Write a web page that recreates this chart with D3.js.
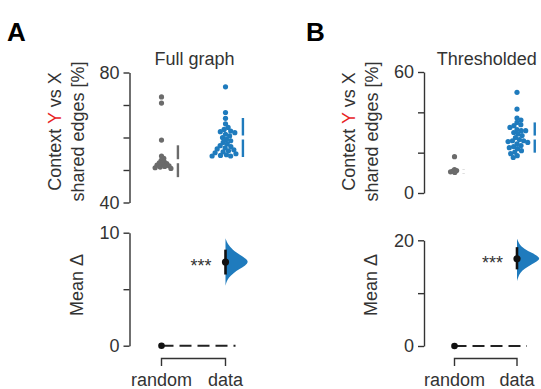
<!DOCTYPE html>
<html><head><meta charset="utf-8">
<script src="https://cdn.jsdelivr.net/npm/d3@7"></script>
<style>body{margin:0;background:#fff} text{font-family:"Liberation Sans",Arial,sans-serif}</style>
</head><body><svg id="c" width="541" height="389"></svg>
<script>
// ---------- data ----------
const groups = ["random", "data"];
const panelLetters = ["A", "B"];
const panelTitles = ["Full graph", "Thresholded"];
// Full graph: shared edges [%]
const fullRandom = [72.5, 70.6, 59.2, 54.3, 53.6, 53.0, 52.6, 52.2, 52.0, 51.7, 51.5, 51.3, 51.1, 50.9, 50.7, 50.5];
const fullData = [75.6, 67.7, 65.9, 64.2, 63.1, 62.5, 62.0, 61.8, 61.5, 61.0, 60.5, 60.0, 59.4, 59.0, 58.5,
                  58.0, 57.5, 57.2, 56.8, 56.5, 56.2, 55.9, 55.6, 55.3, 55.0, 54.7, 54.5, 54.3, 54.3];
const fullMeanSd = [[52.7, 4.9], [60.0, 6.0]];
// Thresholded: shared edges [%]
const thrRandom = [18.0, 11.6, 11.1, 10.8, 10.5, 10.2];
const thrData = [49.9, 41.6, 37.2, 36.2, 35.0, 33.9, 33.4, 32.5, 31.5, 30.9, 30.9, 30.0, 29.3, 28.5, 27.5,
                 26.5, 25.9, 25.9, 25.5, 25.1, 24.4, 23.5, 23.0, 22.5, 22.0, 21.0, 20.3, 19.5, 18.5, 17.6];
const thrMeanSd = [[10.7, 1.1], [27.5, 7.5]];
// Mean difference: [mean, ci low, ci high]
const fullDelta = [7.4, 6.3, 8.5];
const thrDelta = [16.5, 14.5, 18.7];
// bootstrap distribution profile (value, relative density)
const fullBootVals = [5.3, 5.7, 6.0, 6.4, 6.8, 7.1, 7.4, 7.7, 8.0, 8.5, 9.0, 9.5];
const fullBootDens = [0, 0.05, 0.13, 0.32, 0.62, 0.87, 1, 0.9, 0.66, 0.3, 0.09, 0];
const thrBootVals = [12.3, 13.0, 13.8, 14.6, 15.4, 16.0, 16.5, 17.0, 17.6, 18.4, 19.3, 20.3];
const thrBootDens = [0, 0.05, 0.13, 0.32, 0.62, 0.87, 1, 0.9, 0.66, 0.3, 0.09, 0];
// axis ticks
const fullTicks = [40, 50, 60, 70, 80];
const fullTickLabels = [40, 80];
const thrTicks = [0, 20, 40, 60];
const thrTickLabels = [0, 60];
const fullDeltaTicks = [0, 5, 10];
const fullDeltaLabels = [0, 10];
const thrDeltaTicks = [0, 10, 20];
const thrDeltaLabels = [0, 20];
const sigLabel = "***";

// ---------- drawing ----------
const svg = d3.select("#c");
const GRAY = "#6b6b6b", BLUE = "#1f7bbd", INK = "#333";

const panels = [
  {letter: panelLetters[0], title: panelTitles[0], ax: 129.5, xr: [161.5, 225.5], lx: 7, pack: [0.62, 0.85],
   up: {dom: [40, 80], rng: [202.5, 72.5], ticks: fullTicks, labels: fullTickLabels},
   lo: {dom: [0, 10], rng: [345.7, 232.7], ticks: fullDeltaTicks, labels: fullDeltaLabels},
   vals: [fullRandom, fullData], msd: fullMeanSd, delta: fullDelta, bv: fullBootVals, bd: fullBootDens},
  {letter: panelLetters[1], title: panelTitles[1], ax: 424, xr: [454.5, 517], lx: 306, pack: [0.45, 0.85],
   up: {dom: [0, 60], rng: [193, 72], ticks: thrTicks, labels: thrTickLabels},
   lo: {dom: [0, 20], rng: [346, 240.3], ticks: thrDeltaTicks, labels: thrDeltaLabels},
   vals: [thrRandom, thrData], msd: thrMeanSd, delta: thrDelta, bv: thrBootVals, bd: thrBootDens}
];

function swarm(values, y, r, pack) {
  const d = 2 * r * pack;
  const idx = values.map((v, i) => i).sort((a, b) => values[b] - values[a]);
  const placed = [];
  const out = new Array(values.length);
  idx.forEach(i => {
    const yi = y(values[i]);
    const cands = [0];
    placed.forEach(p => {
      const dy = Math.abs(p.y - yi);
      if (dy < d) { const dx = Math.sqrt(d * d - dy * dy); cands.push(p.x + dx, p.x - dx); }
    });
    const ok = cands.filter(c => placed.every(p => (p.x - c) ** 2 + (p.y - yi) ** 2 >= d * d - 0.01));
    ok.sort((a, b) => Math.abs(a) - Math.abs(b) || b - a);
    const x = ok[0];
    placed.push({x, y: yi});
    out[i] = {x, y: yi, v: values[i]};
  });
  return out;
}

function styleAxis(g) {
  g.select(".domain").attr("stroke", INK).attr("stroke-width", 1.4);
  g.selectAll(".tick line").attr("stroke", INK).attr("stroke-width", 1.4);
  g.selectAll(".tick text").attr("fill", INK).style("font-size", "18px")
    .style("font-family", '"Liberation Sans", Arial, sans-serif');
}

panels.forEach(P => {
  const g = svg.append("g");
  const x = d3.scalePoint().domain(groups).range(P.xr);
  const yU = d3.scaleLinear().domain(P.up.dom).range(P.up.rng);
  const yL = d3.scaleLinear().domain(P.lo.dom).range(P.lo.rng);

  // panel letter
  g.append("text").attr("x", P.lx).attr("y", 41).text(P.letter)
    .style("font-size", "26px").style("font-weight", "bold").attr("fill", "#000");
  // title
  g.append("text").attr("x", (P.xr[0] + P.xr[1]) / 2 + 1).attr("y", 65).attr("text-anchor", "middle")
    .style("font-size", "18px").attr("fill", INK).text(P.title);

  // axes
  const aU = g.append("g").attr("transform", `translate(${P.ax},0)`)
    .call(d3.axisLeft(yU).tickValues(P.up.ticks).tickFormat(d => P.up.labels.includes(d) ? d : "")
      .tickSize(6).tickSizeOuter(0).tickPadding(4));
  styleAxis(aU);
  const aL = g.append("g").attr("transform", `translate(${P.ax},0)`)
    .call(d3.axisLeft(yL).tickValues(P.lo.ticks).tickFormat(d => P.lo.labels.includes(d) ? d : "")
      .tickSize(6).tickSizeOuter(0).tickPadding(4));
  styleAxis(aL);

  // y titles
  const t1 = g.append("text").attr("transform", `translate(${P.ax - 69},131.5) rotate(-90)`)
    .attr("text-anchor", "middle").style("font-size", "18px").attr("fill", INK);
  t1.append("tspan").text("Context ");
  t1.append("tspan").attr("fill", "#e8231f").text("Y");
  t1.append("tspan").text(" vs X");
  g.append("text").attr("transform", `translate(${P.ax - 46},131.5) rotate(-90)`)
    .attr("text-anchor", "middle").style("font-size", "18px").attr("fill", INK).text("shared edges [%]");
  g.append("text").attr("transform", `translate(${P.ax - 47},285) rotate(-90)`)
    .attr("text-anchor", "middle").style("font-size", "18px").attr("fill", INK).text("Mean \u0394");

  // swarms
  const r = 2.6;
  groups.forEach((gr, gi) => {
    const col = gi === 0 ? GRAY : BLUE;
    const pts = swarm(P.vals[gi], yU, r, P.pack[gi]);
    const cx = x(gr);
    g.append("g").selectAll("circle").data(pts).join("circle")
      .attr("cx", d => cx + d.x).attr("cy", d => d.y).attr("r", r).attr("fill", col);
    const bx = cx + d3.max(pts, d => d.x) + 7;
    const [m, sd] = P.msd[gi];
    const gap = 2;
    g.append("line").attr("x1", bx).attr("x2", bx).attr("y1", yU(m + sd)).attr("y2", yU(m) - gap)
      .attr("stroke", col).attr("stroke-width", 2.4);
    g.append("line").attr("x1", bx).attr("x2", bx).attr("y1", yU(m) + gap).attr("y2", yU(m - sd))
      .attr("stroke", col).attr("stroke-width", 2.4);
  });

  // lower: reference zero line
  const xr = x("random"), xd = x("data");
  g.append("line").attr("x1", xr).attr("x2", xd + 10).attr("y1", yL(0)).attr("y2", yL(0))
    .attr("stroke", "#222").attr("stroke-width", 2).attr("stroke-dasharray", "12,6");
  g.append("circle").attr("cx", xr).attr("cy", yL(0)).attr("r", 3.3).attr("fill", "#111");

  // violin
  const prof = P.bv.map((v, i) => ({v, d: P.bd[i]}));
  const area = d3.area().y(d => yL(d.v)).x0(xd).x1(d => xd + d.d * 23).curve(d3.curveBasis);
  g.append("path").attr("d", area(prof)).attr("fill", BLUE);
  // CI & mean
  g.append("line").attr("x1", xd).attr("x2", xd).attr("y1", yL(P.delta[1])).attr("y2", yL(P.delta[2]))
    .attr("stroke", "#111").attr("stroke-width", 2.6);
  g.append("circle").attr("cx", xd).attr("cy", yL(P.delta[0])).attr("r", 3.6).attr("fill", "#111");
  g.append("text").attr("x", xd - 14).attr("y", yL(P.delta[0]) + 10).attr("text-anchor", "end")
    .style("font-size", "18px").attr("fill", INK).text(sigLabel);

  // bracket + group labels
  g.append("path").attr("d", `M${xr},366V358.5H${xd}V366`).attr("fill", "none")
    .attr("stroke", INK).attr("stroke-width", 1.4);
  groups.forEach(gr => {
    g.append("text").attr("x", x(gr)).attr("y", 386).attr("text-anchor", "middle")
      .style("font-size", "18px").attr("fill", INK).text(gr);
  });
});
</script></body></html>
